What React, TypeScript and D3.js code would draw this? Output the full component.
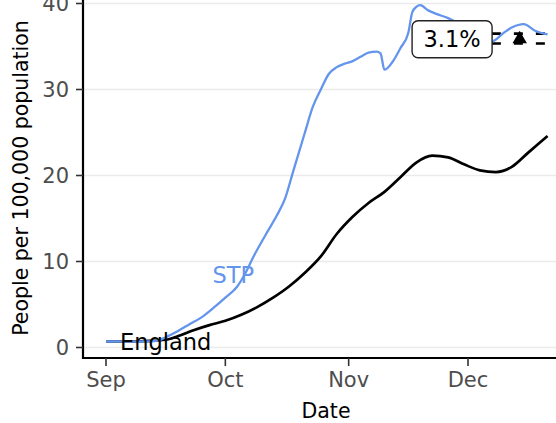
import * as d3 from "d3";

const englandDates = [
  "2020-09-01", "2020-09-06", "2020-09-11", "2020-09-16", "2020-09-19", "2020-09-23",
  "2020-09-27", "2020-10-01", "2020-10-05", "2020-10-09", "2020-10-13", "2020-10-17",
  "2020-10-21", "2020-10-25", "2020-10-29", "2020-11-02", "2020-11-06", "2020-11-10",
  "2020-11-14", "2020-11-18", "2020-11-22", "2020-11-26", "2020-11-30", "2020-12-04",
  "2020-12-08", "2020-12-12", "2020-12-16", "2020-12-21",
];
const englandValues = [
  0.7, 0.7, 0.75, 0.9, 1.3, 2.0, 2.6, 3.1, 3.8, 4.7, 5.8, 7.1, 8.7, 10.6, 13.2, 15.2,
  16.8, 18.1, 19.8, 21.5, 22.3, 22.1, 21.3, 20.6, 20.4, 21.0, 22.6, 24.6,
];

const stpDates = [
  "2020-09-01", "2020-09-06", "2020-09-11", "2020-09-14", "2020-09-16", "2020-09-19",
  "2020-09-22", "2020-09-25", "2020-09-28", "2020-10-01", "2020-10-04", "2020-10-06",
  "2020-10-08", "2020-10-11", "2020-10-14", "2020-10-16", "2020-10-18", "2020-10-21",
  "2020-10-23", "2020-10-25", "2020-10-27", "2020-10-29", "2020-10-31", "2020-11-02",
  "2020-11-04", "2020-11-06", "2020-11-08", "2020-11-09", "2020-11-10", "2020-11-12",
  "2020-11-14", "2020-11-16", "2020-11-17", "2020-11-18", "2020-11-19", "2020-11-21",
  "2020-11-23", "2020-11-26", "2020-11-30", "2020-12-04", "2020-12-07", "2020-12-10",
  "2020-12-12", "2020-12-15", "2020-12-18", "2020-12-21",
];
const stpValues = [
  0.7, 0.7, 0.7, 0.8, 1.2, 1.9, 2.7, 3.5, 4.6, 5.8, 7.1, 8.6, 10.5, 13.0, 15.4, 17.3,
  20.4, 25.0, 28.0, 30.0, 31.8, 32.6, 33.0, 33.3, 33.8, 34.3, 34.4, 34.2, 32.3, 33.2,
  34.8, 36.6, 39.0, 39.6, 39.8, 39.2, 38.8, 38.3, 37.3, 36.3, 35.6, 36.6, 37.2, 37.6,
  36.8, 36.4,
];

const xTickDates = ["2020-09-01", "2020-10-01", "2020-11-01", "2020-12-01"];
const xTickLabels = ["Sep", "Oct", "Nov", "Dec"];
const yTicks = [0, 10, 20, 30, 40];

// annotation: change label, marker and dashed bounds
const changeLabel = "3.1%";
const changeLabelDate = "2020-11-27";
const changeValue = 35.85;
const boundValues = [36.5, 35.35];
const boundStartDate = "2020-12-07";
const markerDate = "2020-12-14";

const seriesLabels = [
  { name: "England", date: "2020-09-16", value: 0.7, color: "#000000" },
  { name: "STP", date: "2020-10-03", value: 8.4, color: "#6495ED" },
];

const width = 556;
const height = 423;
const font = "DejaVu Sans";

export default function App() {
  const parse = (s: string) => new Date(s + "T00:00:00Z");

  // Sep 1 -> Dec 1 spans the pixel range of the axis ticks
  const x = d3
    .scaleUtc()
    .domain([parse("2020-09-01"), parse("2020-12-01")])
    .range([106, 468]);
  const y = d3.scaleLinear().domain([0, 40]).range([347.5, 3.5]);

  const panelLeft = 83;
  const panelBottom = 358;

  const line = d3
    .line<[Date, number]>()
    .x((d) => x(d[0]))
    .y((d) => y(d[1]))
    .curve(d3.curveMonotoneX);

  const england = englandDates.map((d, i) => [parse(d), englandValues[i]] as [Date, number]);
  const stp = stpDates.map((d, i) => [parse(d), stpValues[i]] as [Date, number]);

  const triangle = d3.symbol().type(d3.symbolTriangle).size(90)();

  const lx = x(parse(changeLabelDate));
  const ly = y(changeValue);
  const boxW = 80;
  const boxH = 37;

  return (
    <svg
      width={width}
      height={height}
      style={{ position: "absolute", left: 0, top: 0, background: "#fff" }}
      fontFamily={font}
    >
      {/* gridlines */}
      {yTicks.map((t) => (
        <line
          key={"g" + t}
          x1={panelLeft}
          x2={width}
          y1={y(t)}
          y2={y(t)}
          stroke="#ebebeb"
          strokeWidth={1.6}
        />
      ))}

      {/* dashed bounds */}
      {boundValues.map((v) => (
        <line
          key={"b" + v}
          x1={x(parse(boundStartDate))}
          x2={width}
          y1={y(v)}
          y2={y(v)}
          stroke="#000"
          strokeWidth={2.6}
          strokeDasharray="9,13"
        />
      ))}
      <path
        d={triangle}
        transform={`translate(${x(parse(markerDate))},${y(changeValue)})`}
        fill="#000"
      />

      {/* series */}
      <path d={line(england) ?? ""} fill="none" stroke="#000" strokeWidth={2.7} />
      <path d={line(stp) ?? ""} fill="none" stroke="#6495ED" strokeWidth={2.3} />

      {/* series labels */}
      {seriesLabels.map((s) => (
        <text
          key={s.name}
          x={x(parse(s.date))}
          y={y(s.value)}
          dy="0.36em"
          textAnchor="middle"
          fontSize={22.5}
          fill={s.color}
        >
          {s.name}
        </text>
      ))}

      {/* change label */}
      <rect
        x={lx - boxW / 2}
        y={ly - boxH / 2}
        width={boxW}
        height={boxH}
        rx={6}
        fill="#fff"
        stroke="#222"
        strokeWidth={1.4}
      />
      <text x={lx} y={ly} dy="0.36em" textAnchor="middle" fontSize={22.5} fill="#000">
        {changeLabel}
      </text>

      {/* axes */}
      <line x1={panelLeft} x2={panelLeft} y1={0} y2={panelBottom + 1} stroke="#000" strokeWidth={2.2} />
      <line x1={panelLeft - 1} x2={width} y1={panelBottom} y2={panelBottom} stroke="#000" strokeWidth={2.2} />

      {yTicks.map((t) => (
        <g key={"y" + t}>
          <line x1={panelLeft - 7} x2={panelLeft} y1={y(t)} y2={y(t)} stroke="#333" strokeWidth={1.6} />
          <text
            x={panelLeft - 14}
            y={y(t)}
            dy="0.36em"
            textAnchor="end"
            fontSize={21}
            fill="#4d4d4d"
          >
            {t}
          </text>
        </g>
      ))}

      {xTickDates.map((d, i) => (
        <g key={"x" + d}>
          <line
            x1={x(parse(d))}
            x2={x(parse(d))}
            y1={panelBottom}
            y2={panelBottom + 8}
            stroke="#333"
            strokeWidth={1.6}
          />
          <text x={x(parse(d))} y={387} textAnchor="middle" fontSize={21} fill="#4d4d4d">
            {xTickLabels[i]}
          </text>
        </g>
      ))}

      {/* axis titles */}
      <text x={326} y={418} textAnchor="middle" fontSize={20.5} fill="#000">
        Date
      </text>
      <text
        transform="translate(28,178) rotate(-90)"
        textAnchor="middle"
        fontSize={20.5}
        fill="#000"
      >
        People per 100,000 population
      </text>
    </svg>
  );
}
